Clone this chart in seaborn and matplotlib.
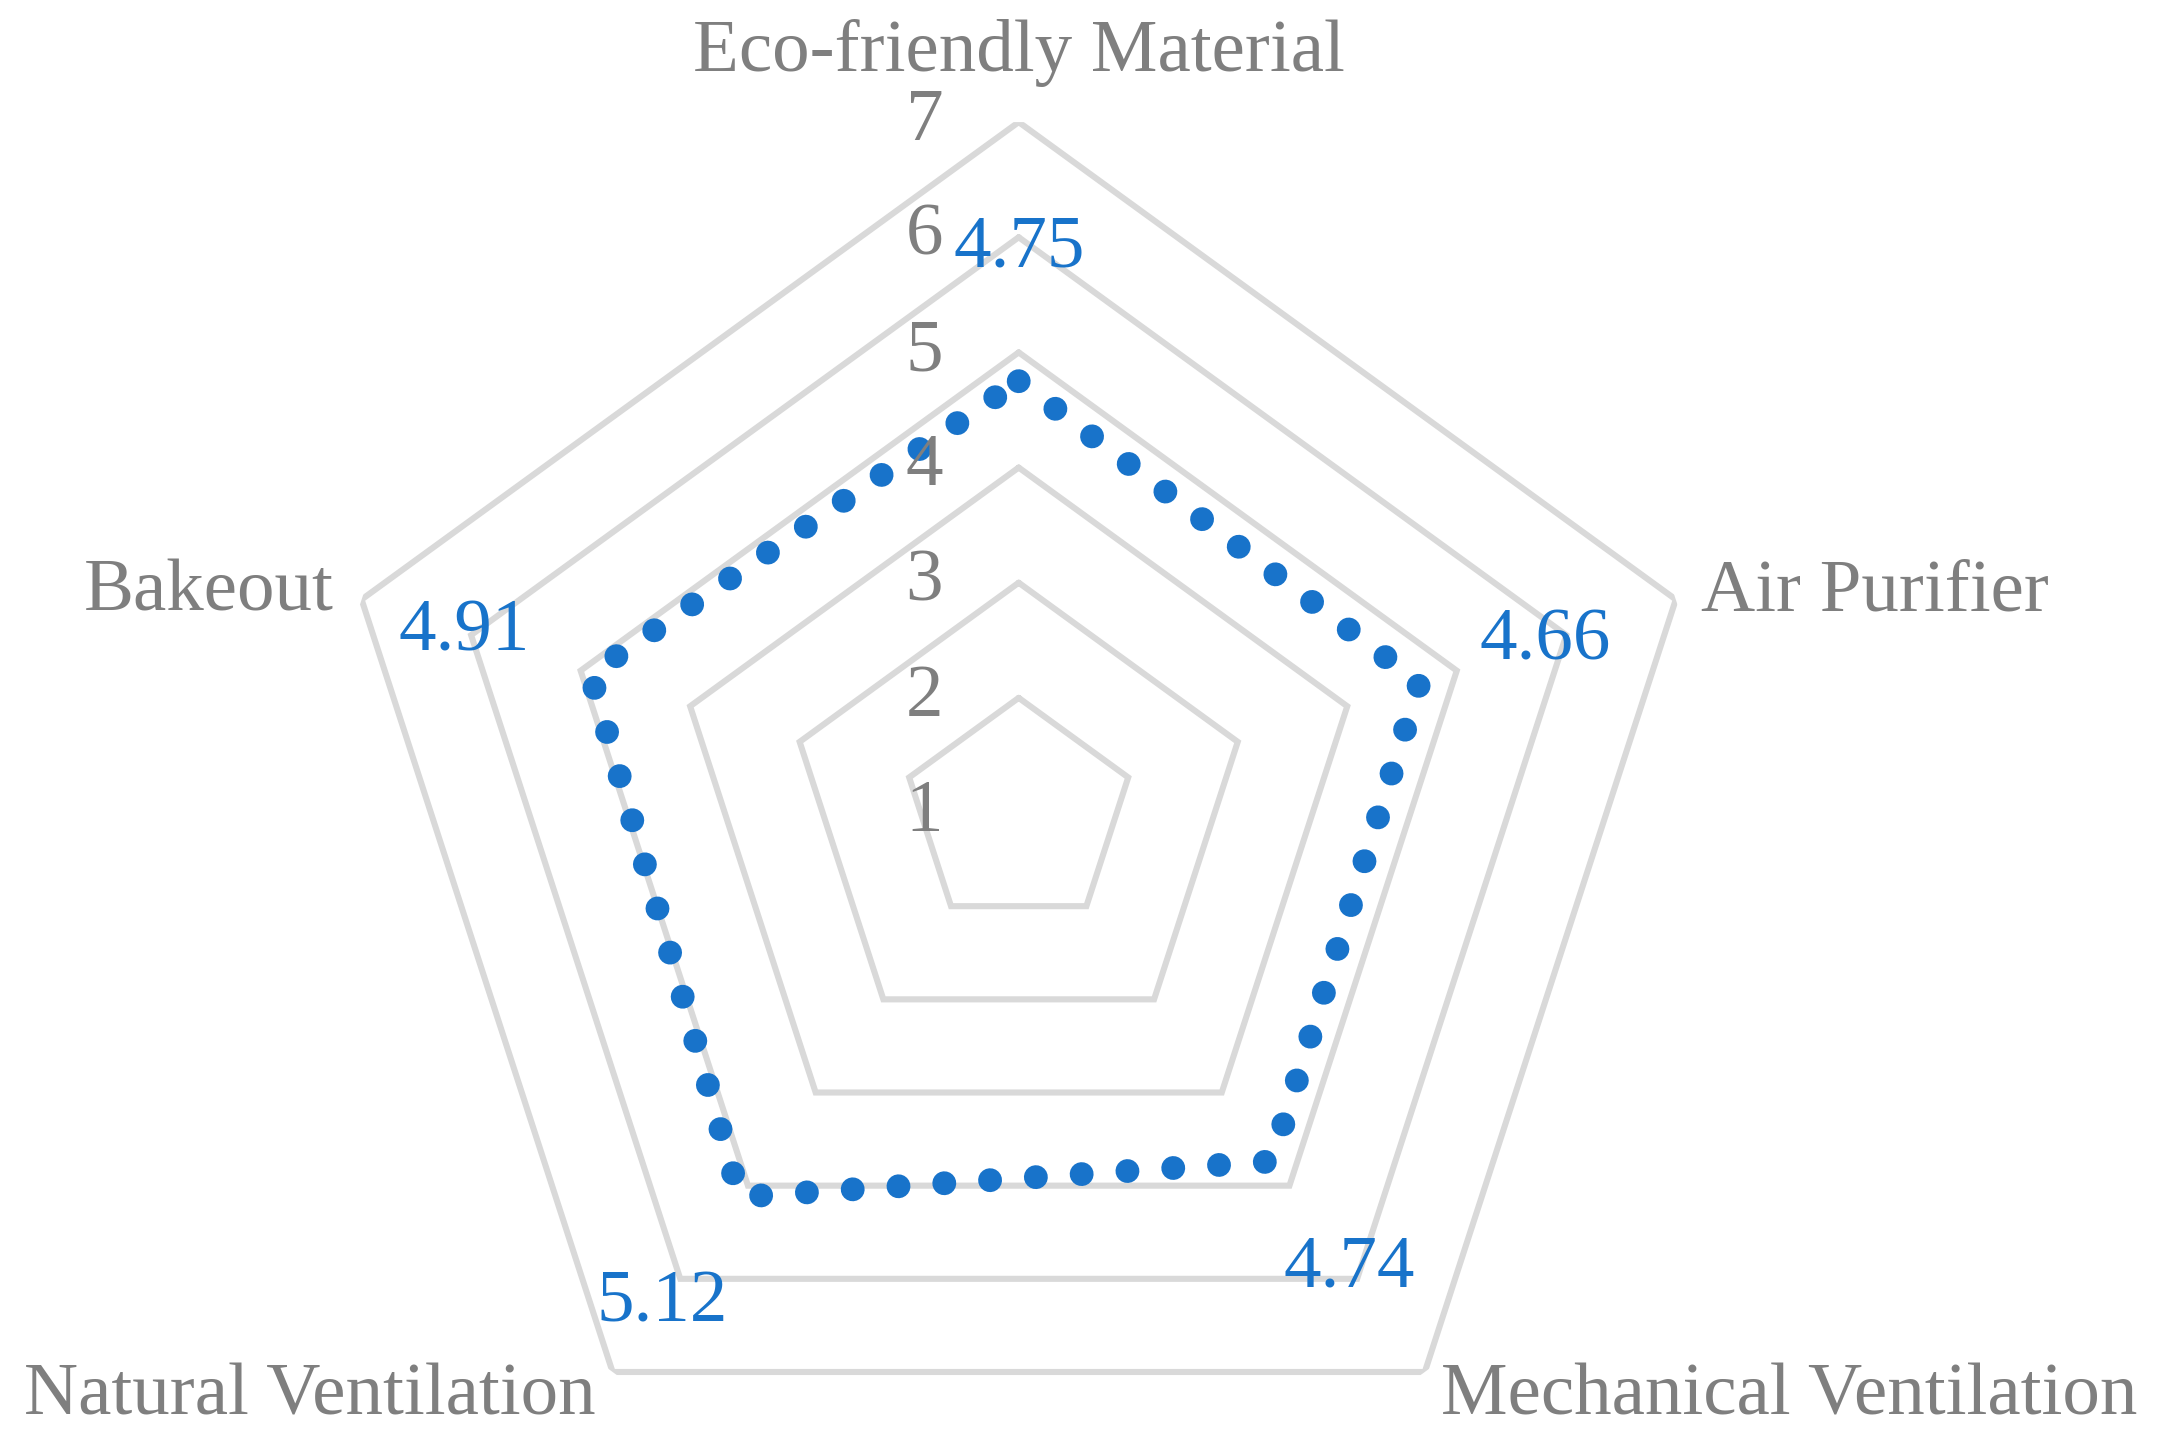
import numpy as np
import pandas as pd
import seaborn as sns
import matplotlib
matplotlib.use('Agg')
import matplotlib.pyplot as plt

categories = ['Eco-friendly Material', 'Air Purifier', 'Mechanical Ventilation',
              'Natural Ventilation', 'Bakeout']
scores = [4.75, 4.66, 4.74, 5.12, 4.91]
levels = [1, 2, 3, 4, 5, 6, 7]

BLUE = '#1873ca'
GRAY = '#7f7f7f'
GRID = '#d9d9d9'

sns.set_theme(style='white')
plt.rcParams['font.family'] = ['Liberation Serif', 'DejaVu Serif']

n = len(categories)
angles = np.linspace(0, 2 * np.pi, n, endpoint=False)
# close the loop at 2*pi so seaborn does not merge it with angle 0
angles_closed = np.append(angles, 2 * np.pi)

fig = plt.figure(figsize=(10.865, 7.25), dpi=200)
ax = fig.add_axes([0.1508, -0.0372, 0.636, 0.953], projection='polar')
ax.set_theta_zero_location('N')
ax.set_theta_direction(-1)
ax.set_ylim(levels[0], levels[-1])
ax.grid(False)
ax.spines['polar'].set_visible(False)
ax.set_xticks([])
ax.set_yticks([])

# pentagon gridlines
for lv in levels[1:]:
    ax.plot(angles_closed, [lv] * (n + 1), color=GRID, lw=2.2, zorder=1,
            solid_joinstyle='miter')

# value axis labels
for lv in levels:
    ax.annotate(str(lv), xy=(0, lv), xytext=(-34, 0), textcoords='offset points',
                ha='center', va='center', fontsize=27, color=GRAY, zorder=4)

# data line
df = pd.DataFrame({'angle': angles_closed, 'score': scores + [scores[0]]})
sns.lineplot(data=df, x='angle', y='score', sort=False, ax=ax, color=BLUE,
             estimator=None, zorder=2.5)
line = ax.lines[-1]
line.set_linewidth(8.6)
line.set_linestyle((0, (0.001, 1.92)))
line.set_dash_capstyle('round')
ax.set_xlabel('')
ax.set_ylabel('')

# data labels
for a, s in zip(angles, scores):
    ax.text(a, s + 1.15, f'{s:.2f}', ha='center', va='center', fontsize=27,
            color=BLUE, zorder=4)

# category labels
offsets = [(0, 25), (9, 2.5), (6, -9), (-6, -9), (-10, 2.5)]
aligns = ['center', 'left', 'left', 'right', 'right']
for a, c, off, ha in zip(angles, categories, offsets, aligns):
    ax.annotate(c, xy=(a, levels[-1]), xytext=off, textcoords='offset points',
                ha=ha, va='center', fontsize=27, color=GRAY, annotation_clip=False)

fig.savefig('out.png', dpi=200)
